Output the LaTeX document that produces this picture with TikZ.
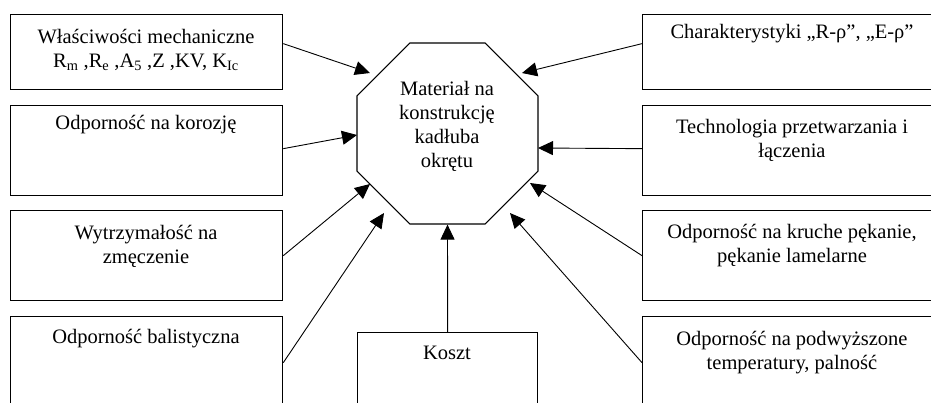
\documentclass[tikz,border=0pt]{standalone}
\usepackage{fontspec}
\setmainfont{Liberation Serif}
\usetikzlibrary{shapes.geometric,arrows.meta,calc}
\begin{document}
\begin{tikzpicture}[x=1pt,y=-1pt,
  box/.style={draw, line width=1.3pt, inner sep=0pt, anchor=north west},
  lbl/.style={font=\fontsize{20.5}{24}\selectfont, align=center, anchor=base, inner sep=0pt},
  arr/.style={line width=0.9pt, -{Triangle[length=15pt,width=14pt]}},
  oct/.style={draw, line width=1.1pt, regular polygon, regular polygon sides=8, minimum size=196pt, inner sep=0pt}]
\useasboundingbox (0,0) rectangle (931,402);
\clip (0,0) rectangle (931,402);
% boxes
\node[box, minimum width=272pt, minimum height=75pt] (L1) at (10,14) {};
\node[box, minimum width=272pt, minimum height=90pt] (L2) at (10,105) {};
\node[box, minimum width=272pt, minimum height=90pt] (L3) at (10,210) {};
\node[box, minimum width=272pt, minimum height=92pt] (L4) at (10,316) {};
\node[box, minimum width=300pt, minimum height=75pt] (R1) at (642,14) {};
\node[box, minimum width=300pt, minimum height=90pt] (R2) at (642,105) {};
\node[box, minimum width=300pt, minimum height=90pt] (R3) at (642,210) {};
\node[box, minimum width=300pt, minimum height=92pt] (R4) at (642,316) {};
\node[box, minimum width=180pt, minimum height=90pt] (K) at (357,332) {};
\node[oct] (O) at (447.5,133.5) {};
% texts (base = baseline of last line)
\node[lbl] (L1t) at (146,67) {Właściwości mechaniczne\\R\textsubscript{m} ,R\textsubscript{e} ,A\textsubscript{5} ,Z ,KV, K\textsubscript{Ic}};
\node[lbl] (L2t) at (146,129) {Odporność na korozję};
\node[lbl] (L3t) at (146,263) {Wytrzymałość na\\zmęczenie};
\node[lbl] (L4t) at (146,343) {Odporność balistyczna};
\node[lbl] (R1t) at (792,38) {Charakterystyki „R-ρ”, „E-ρ”};
\node[lbl] (R2t) at (792,157) {Technologia przetwarzania i\\łączenia};
\node[lbl] (R3t) at (792,262) {Odporność na kruche pękanie,\\pękanie lamelarne};
\node[lbl] (R4t) at (792,369) {Odporność na podwyższone\\temperatury, palność};
\node[lbl] (Kt) at (447,359) {Koszt};
\node[lbl] (Ot) at (447,167) {Materiał na\\konstrukcję\\kadłuba\\okrętu};
% arrow tips
\coordinate (t1) at (370,73);
\coordinate (t2) at (357,135);
\coordinate (t3) at (370,184);
\coordinate (t4) at (384,213);
\coordinate (t6) at (510,213);
\coordinate (t7) at (530,183);
\coordinate (t8) at (538,148);
\coordinate (t9) at (522,73);
% arrows
\draw[arr] ([yshift=8.5pt]L1.east) -- (t1);
\draw[arr] ([yshift=2pt]L2.east) -- (t2);
\draw[arr] (L3.east) -- (t3);
\draw[arr] (L4.east) -- (t4);
\draw[arr] (K.north) -- (O.south);
\draw[arr] (R4.west) -- (t6);
\draw[arr] (R3.west) -- (t7);
\draw[arr] ([yshift=2pt]R2.west) -- (t8);
\draw[arr] ([yshift=8.5pt]R1.west) -- (t9);
\end{tikzpicture}
\end{document}
